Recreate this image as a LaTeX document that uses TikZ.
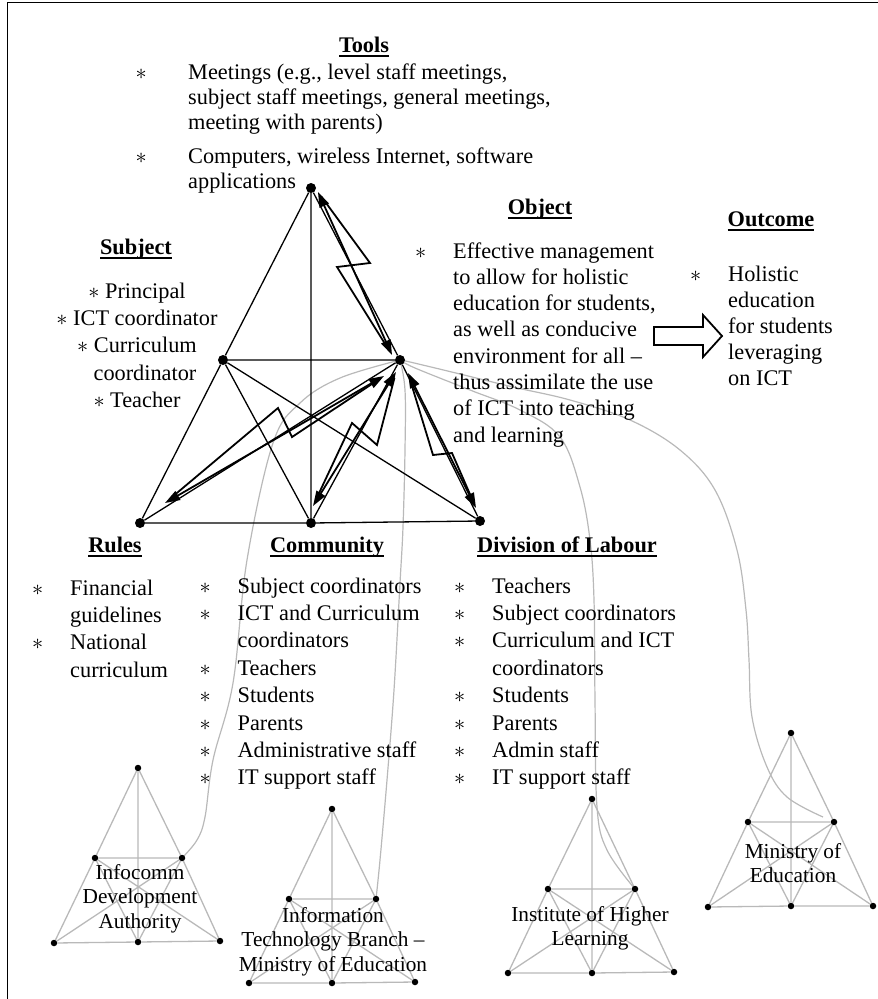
\documentclass[tikz,border=0pt]{standalone}
\usepackage{fix-cm}
\usepackage{fontspec}
\setmainfont{Liberation Serif}
\usetikzlibrary{arrows.meta}
\pgfdeclarelayer{links}
\pgfsetlayers{links,main}

% bold heading with a heavy underline
\newcommand\hdline[1]{\setbox0\hbox{\bfseries #1}\rlap{\rule[-4.5bp]{\wd0}{2bp}}\box0}
% list bullet set in a fixed-width box
\newcommand\itm[1][38bp]{\makebox[#1][l]{$\ast$}}

\newcommand\minitri[7]{%
  \node[dotB] (#1-t)  at (#2) {};
  \node[dotB] (#1-ml) at (#3) {};
  \node[dotB] (#1-mr) at (#4) {};
  \node[dotB] (#1-bl) at (#5) {};
  \node[dotB] (#1-bm) at (#6) {};
  \node[dotB] (#1-br) at (#7) {};
  \draw[edgeB] (#1-t)--(#1-ml)--(#1-bl)--(#1-bm)--(#1-br)--(#1-mr)--(#1-t)
    (#1-t)--(#1-bm) (#1-ml)--(#1-mr) (#1-ml)--(#1-bm) (#1-ml)--(#1-br)
    (#1-mr)--(#1-bl) (#1-mr)--(#1-bm);
}

\tikzset{
  dotA/.style={circle,fill=black,inner sep=0pt,minimum size=10bp},
  dotB/.style={circle,fill=black,inner sep=0pt,minimum size=6.5bp},
  frameline/.style={line width=1.6bp},
  edgeA/.style={line width=1.3bp},
  edgeB/.style={line width=1.3bp,draw=gray!55},
  boltline/.style={line width=1.8bp,line join=miter,miter limit=20},
  boltheads/.style={boltline,{Triangle[length=15bp,width=10bp]}-{Triangle[length=15bp,width=10bp]}},
  link/.style={draw=gray!55,line width=1.2bp},
  body/.style={inner sep=0pt,font=\fontsize{22.3bp}{27.4bp}\selectfont},
  heading/.style={inner sep=0pt,anchor=base,font=\fontsize{22.3bp}{27.4bp}\selectfont},
  tag/.style={inner sep=0pt,anchor=base,font=\fontsize{21.3bp}{24.5bp}\selectfont},
}

\begin{document}
\begin{tikzpicture}[x=1bp,y=1bp]
\useasboundingbox (0,0) rectangle (878,-999);
\draw[frameline] (7.5,-999) -- (7.5,-2.5) -- (878,-2.5);

% ---------- activity system triangle ----------
\node[dotA] (T)  at (311,-188) {};
\node[dotA] (ML) at (223,-360) {};
\node[dotA] (MR) at (400,-360) {};
\node[dotA] (BL) at (140,-523) {};
\node[dotA] (BM) at (311,-523) {};
\node[dotA] (BR) at (480,-521) {};
\draw[edgeA] (T)--(ML)--(BL)--(BM)--(BR)--(MR)--(T)
  (T)--(BM) (ML)--(MR) (ML)--(BM) (ML)--(BR) (MR)--(BL) (MR)--(BM);

% contradictions (lightning arrows)
\coordinate (tmA) at (318,-192);  \coordinate (tmB) at (392,-355);
\coordinate (tmZ1) at (370,-263); \coordinate (tmZ2) at (337,-267);
\coordinate (mbA) at (408,-373);  \coordinate (mbB) at (476,-508);
\coordinate (mbZ1) at (433,-455); \coordinate (mbZ2) at (452,-453);
\coordinate (mcA) at (396,-372);  \coordinate (mcB) at (313,-506);
\coordinate (mcZ1) at (377,-445); \coordinate (mcZ2) at (352,-423);
\coordinate (mlA) at (384,-376);  \coordinate (mlB) at (165,-503);
\coordinate (mlZ1) at (292,-437); \coordinate (mlZ2) at (278,-408);
\foreach \b in {tm,mb,mc,ml}{
  \draw[boltheads] (\b A) -- (\b B);
  \draw[boltline,shorten <=6bp,shorten >=6bp] (\b A) -- (\b Z1) -- (\b Z2) -- (\b B);
}

% object -> outcome
\draw[line width=1.8bp,fill=white] (654,-327) -- (703,-327) -- (703,-315) -- (722,-336)
  -- (703,-357) -- (703,-345) -- (654,-345) -- cycle;

% ---------- headings ----------
\node[heading] (hTools) at (364,-52) {\hdline{Tools}};
\node[heading] (hSubj)  at (136,-254) {\hdline{Subject}};
\node[heading] (hObj)   at (540,-214) {\hdline{Object}};
\node[heading] (hOut)   at (771,-226) {\hdline{Outcome}};
\node[heading] (hRules) at (115,-552) {\hdline{Rules}};
\node[heading] (hComm)  at (327,-552) {\hdline{Community}};
\node[heading] (hDiv)   at (567,-552) {\hdline{Division of Labour}};

% ---------- lists ----------
\node[body,anchor=base west,font=\fontsize{22.3bp}{25bp}\selectfont] (lTools) at (135.4,-79) {%
  \begin{tabular}[t]{@{}l@{}}
  \itm[52.6bp]Meetings (e.g., level staff meetings,\\
  \hspace*{52.6bp}subject staff meetings, general meetings,\\
  \hspace*{52.6bp}meeting with parents)\\[9bp]
  \itm[52.6bp]Computers, wireless Internet, software\\
  \hspace*{52.6bp}applications
  \end{tabular}};

\node[body,anchor=base] (lSubj) at (137,-298) {%
  \begin{tabular}[t]{@{}c@{}}
  $\ast$ Principal\\
  $\ast$ ICT coordinator\\
  $\ast$ Curriculum\\
  \hspace*{16bp}coordinator\\
  $\ast$ Teacher
  \end{tabular}};

\node[body,anchor=base west,font=\fontsize{22.3bp}{26.3bp}\selectfont] (lObj) at (415,-258) {%
  \begin{tabular}[t]{@{}l@{}}
  \itm Effective management\\
  \hspace*{38bp}to allow for holistic\\
  \hspace*{38bp}education for students,\\
  \hspace*{38bp}as well as conducive\\
  \hspace*{38bp}environment for all --\\
  \hspace*{38bp}thus assimilate the use\\
  \hspace*{38bp}of ICT into teaching\\
  \hspace*{38bp}and learning
  \end{tabular}};

\node[body,anchor=base west,font=\fontsize{22.3bp}{26bp}\selectfont] (lOut) at (690,-281) {%
  \begin{tabular}[t]{@{}l@{}}
  \itm Holistic\\
  \hspace*{38bp}education\\
  \hspace*{38bp}for students\\
  \hspace*{38bp}leveraging\\
  \hspace*{38bp}on ICT
  \end{tabular}};

\node[body,anchor=base west] (lRules) at (32,-595) {%
  \begin{tabular}[t]{@{}l@{}}
  \itm Financial\\
  \hspace*{38bp}guidelines\\
  \itm National\\
  \hspace*{38bp}curriculum
  \end{tabular}};

\node[body,anchor=base west] (lComm) at (199.4,-593) {%
  \begin{tabular}[t]{@{}l@{}}
  \itm Subject coordinators\\
  \itm ICT and Curriculum\\
  \hspace*{38bp}coordinators\\
  \itm Teachers\\
  \itm Students\\
  \itm Parents\\
  \itm Administrative staff\\
  \itm IT support staff
  \end{tabular}};

\node[body,anchor=base west] (lDiv) at (454,-593) {%
  \begin{tabular}[t]{@{}l@{}}
  \itm Teachers\\
  \itm Subject coordinators\\
  \itm Curriculum and ICT\\
  \hspace*{38bp}coordinators\\
  \itm Students\\
  \itm Parents\\
  \itm Admin staff\\
  \itm IT support staff
  \end{tabular}};

% ---------- neighbouring activity systems ----------
\minitri{ida}{138,-768}{95,-858}{182,-858}{54,-943}{138,-942}{220,-941}
\minitri{itb}{332,-809}{289,-899}{376,-899}{249,-983}{332,-983}{415,-982}
\minitri{ihl}{592,-799}{548,-889}{635,-889}{508,-973}{592,-973}{674,-972}
\minitri{moe}{791,-733}{748,-822}{834,-822}{708,-907}{791,-906}{873,-906}

\node[tag] (tIda) at (140,-879) {\begin{tabular}[t]{@{}c@{}}Infocomm\\Development\\Authority\end{tabular}};
\node[tag] (tItb) at (333,-922) {\begin{tabular}[t]{@{}c@{}}Information\\Technology Branch --\\Ministry of Education\end{tabular}};
\node[tag] (tIhl) at (590,-921) {\begin{tabular}[t]{@{}c@{}}Institute of Higher\\Learning\end{tabular}};
\node[tag] (tMoe) at (793,-858) {\begin{tabular}[t]{@{}c@{}}Ministry of\\Education\end{tabular}};

\coordinate (moeEnd) at (823,-817);

% ---------- links to the object ----------
\begin{pgfonlayer}{links}
\draw[link] plot[smooth,tension=0.6] coordinates {(ida-mr.center) (197,-840) (205,-817)
  (213,-760) (233,-683) (247,-560) (273,-443) (300,-403) (340,-378) (MR.center)};
\draw[link] plot[smooth,tension=0.6] coordinates {(itb-mr.center) (380,-860) (387,-780)
  (394,-690) (400,-583) (403,-527) (405,-450) (405,-390) (MR.center)};
\draw[link] plot[smooth,tension=0.6] coordinates {(MR.center) (415,-368) (470,-390)
  (520,-410) (560,-437) (580,-487) (590,-540) (594,-600) (595,-700) (597,-807)
  (607,-850) (ihl-mr.center)};
\draw[link] plot[smooth,tension=0.6] coordinates {(MR.center) (410,-362) (460,-374)
  (513,-387) (570,-400) (630,-420) (680,-450) (715,-490) (737,-550) (746,-610)
  (749,-660) (752,-717) (767,-767) (787,-797) (moeEnd)};
\end{pgfonlayer}
\end{tikzpicture}
\end{document}
